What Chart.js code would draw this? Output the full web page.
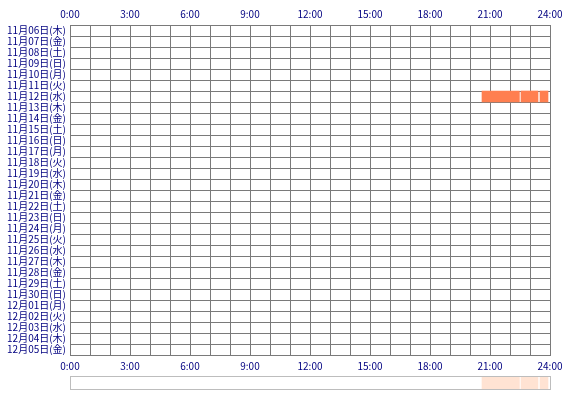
<!DOCTYPE html>
<html><head><meta charset="utf-8">
<script src="https://cdn.jsdelivr.net/npm/chart.js@4/dist/chart.umd.min.js"></script>
<style>
html,body{margin:0;padding:0;background:#fff;}
#wrap{position:relative;width:570px;height:400px;}
#main{position:absolute;left:0;top:0;}
#nav{position:absolute;left:0;top:370px;}
</style></head>
<body><div id="wrap">
<canvas id="main" width="570" height="400"></canvas>
<canvas id="nav" width="570" height="25"></canvas>
</div>
<script>
const days = ["11月06日(木)","11月07日(金)","11月08日(土)","11月09日(日)","11月10日(月)","11月11日(火)","11月12日(水)","11月13日(木)","11月14日(金)","11月15日(土)","11月16日(日)","11月17日(月)","11月18日(火)","11月19日(水)","11月20日(木)","11月21日(金)","11月22日(土)","11月23日(日)","11月24日(月)","11月25日(火)","11月26日(水)","11月27日(木)","11月28日(金)","11月29日(土)","11月30日(日)","12月01日(月)","12月02日(火)","12月03日(水)","12月04日(木)","12月05日(金)"];
const activeDay = "11月12日(水)";
const sessionStarts = [20.6, 22.55, 23.5];
const sessionEnds = [22.47, 23.4, 23.9];
const hourTicks = [0,3,6,9,12,15,18,21,24];

const gridColor = '#7a7a7a';
const labelColor = '#000080';
const fontFam = '"Noto Sans CJK JP", "DejaVu Sans", sans-serif';

const segData = sessionStarts.map((s,i)=>({y: activeDay, x: [s, sessionEnds[i]]}));
const tickCb = v => (hourTicks.includes(v) ? v + ':00' : '');

new Chart(document.getElementById('main'), {
  type: 'bar',
  data: {
    labels: days,
    datasets: [{
      data: segData,
      backgroundColor: '#FF7F50',
      borderWidth: 0,
      barPercentage: 1,
      categoryPercentage: 1,
      grouped: false
    }]
  },
  options: {
    indexAxis: 'y',
    responsive: false,
    animation: false,
    devicePixelRatio: 1,
    layout: {padding: {left: 0, right: 20, top: 0, bottom: 25}},
    plugins: {legend: {display: false}, tooltip: {enabled: false}},
    scales: {
      x: {
        type: 'linear', position: 'bottom', min: 0, max: 24,
        grid: {color: gridColor, lineWidth: 1, drawTicks: false},
        border: {color: gridColor},
        ticks: {stepSize: 1, autoSkip: false, maxRotation: 0, padding: 5,
          color: labelColor, font: {size: 10, family: fontFam}, callback: tickCb},
        afterFit: s => { s.height = 20; }
      },
      x2: {
        type: 'linear', position: 'top', min: 0, max: 24,
        grid: {display: false, drawTicks: false},
        border: {display: false},
        ticks: {stepSize: 1, autoSkip: false, maxRotation: 0, padding: 5,
          color: labelColor, font: {size: 10, family: fontFam}, callback: tickCb},
        afterFit: s => { s.height = 25; }
      },
      y: {
        type: 'category',
        grid: {color: gridColor, lineWidth: 1, drawTicks: false, offset: true},
        border: {color: gridColor},
        ticks: {autoSkip: false, padding: 4, color: labelColor,
          font: {size: 10, family: fontFam}},
        afterFit: s => { s.width = 70; }
      }
    }
  }
});

const frame = {
  id: 'frame',
  afterDraw(chart) {
    const a = chart.chartArea, c = chart.ctx;
    c.save();
    c.strokeStyle = '#bdbdbd';
    c.lineWidth = 1;
    c.strokeRect(a.left + 0.5, a.top - 0.5, a.right - a.left, a.bottom - a.top + 1);
    c.restore();
  }
};

new Chart(document.getElementById('nav'), {
  type: 'bar',
  data: {
    labels: [activeDay],
    datasets: [{
      data: segData,
      backgroundColor: '#FFE3D3',
      borderWidth: 0,
      barPercentage: 1,
      categoryPercentage: 1,
      grouped: false
    }]
  },
  options: {
    indexAxis: 'y',
    responsive: false,
    animation: false,
    devicePixelRatio: 1,
    layout: {padding: {left: 70, right: 20, top: 7, bottom: 6}},
    plugins: {legend: {display: false}, tooltip: {enabled: false}},
    scales: {
      x: {type: 'linear', min: 0, max: 24, display: false},
      y: {type: 'category', display: false}
    }
  },
  plugins: [frame]
});
</script>
</body></html>
